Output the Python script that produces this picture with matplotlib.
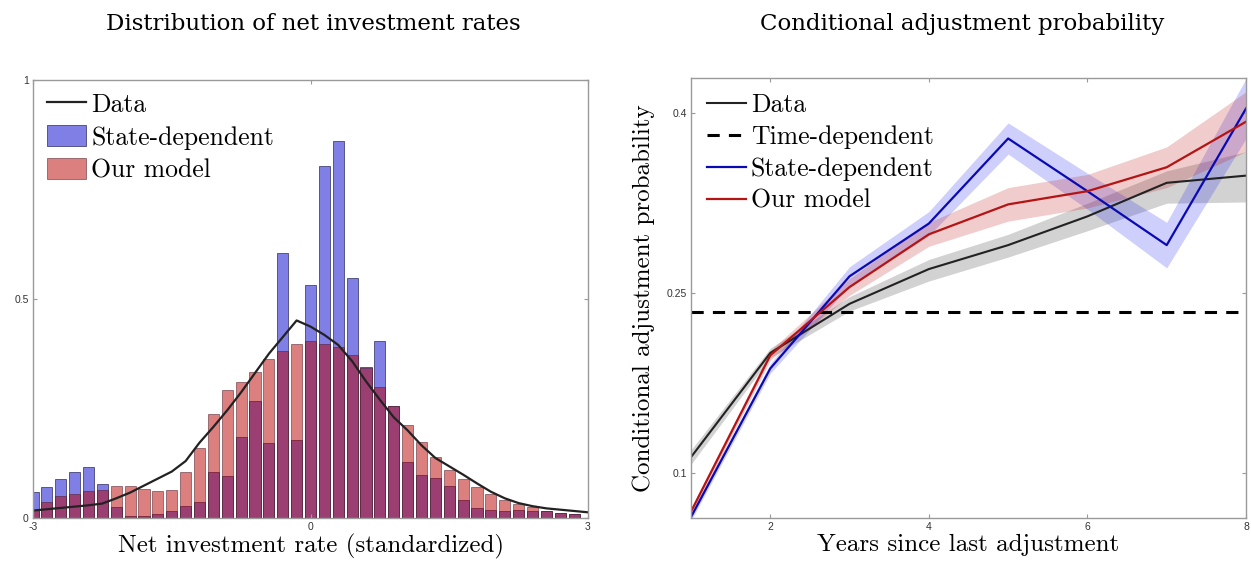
import matplotlib
matplotlib.use("Agg")
import matplotlib.pyplot as plt
import numpy as np

# histogram panel
bin_centers = np.linspace(-3, 2.85, 40)
state_dep = [0.059, 0.070, 0.088, 0.106, 0.117, 0.078, 0.024, 0.004, 0.005, 0.009,
             0.017, 0.027, 0.036, 0.105, 0.096, 0.186, 0.267, 0.171, 0.606, 0.178,
             0.531, 0.803, 0.860, 0.547, 0.344, 0.405, 0.256, 0.127, 0.099, 0.091,
             0.072, 0.041, 0.023, 0.018, 0.017, 0.018, 0.017, 0.016, 0.012, 0.009]
our_model = [0.018, 0.036, 0.050, 0.054, 0.061, 0.064, 0.072, 0.072, 0.067, 0.061,
             0.063, 0.105, 0.159, 0.237, 0.292, 0.310, 0.333, 0.363, 0.381, 0.397,
             0.404, 0.398, 0.391, 0.373, 0.343, 0.298, 0.255, 0.213, 0.174, 0.139,
             0.110, 0.090, 0.070, 0.055, 0.041, 0.031, 0.024, 0.016, 0.012, 0.009]
line_x = np.linspace(-3, 3, 41)
data_density = [0.017, 0.020, 0.023, 0.026, 0.029, 0.033, 0.045, 0.058, 0.074, 0.090,
                0.106, 0.130, 0.172, 0.208, 0.246, 0.287, 0.331, 0.375, 0.413, 0.451,
                0.437, 0.418, 0.395, 0.358, 0.312, 0.270, 0.230, 0.200, 0.166, 0.137,
                0.118, 0.099, 0.079, 0.060, 0.045, 0.034, 0.027, 0.022, 0.019, 0.016,
                0.013]

# adjustment probability panel
years = [1, 2, 3, 4, 5, 6, 7, 8]
data_prob = [0.113, 0.200, 0.241, 0.270, 0.290, 0.314, 0.342, 0.348]
data_lo = [0.107, 0.196, 0.235, 0.260, 0.280, 0.302, 0.325, 0.326]
data_hi = [0.119, 0.204, 0.247, 0.278, 0.299, 0.325, 0.352, 0.368]
time_dep = 0.234
state_prob = [0.063, 0.187, 0.264, 0.308, 0.379, 0.335, 0.290, 0.404]
state_err = [0.003, 0.004, 0.008, 0.010, 0.013, 0.015, 0.019, 0.025]
our_prob = [0.0675, 0.198, 0.255, 0.299, 0.324, 0.335, 0.355, 0.393]
our_err = [0.003, 0.004, 0.007, 0.010, 0.014, 0.014, 0.017, 0.025]

plt.rcParams['axes.unicode_minus'] = False
cm_font = 'cmr10'
tick_font = 'Liberation Sans'
title_font = 'DejaVu Serif'
spine_col = '#9a9a9a'

W, H = 1251, 564
fig = plt.figure(figsize=(W / 100, H / 100), dpi=100)
ax1 = fig.add_axes([33 / W, (H - 518) / H, 555 / W, 438 / H])
ax2 = fig.add_axes([691 / W, (H - 518) / H, 555 / W, 440 / H])

blue_face = (0.0, 0.0, 0.8, 0.5)
red_face = (0.72, 0.0, 0.0, 0.5)

ax1.bar(bin_centers, state_dep, width=0.12, color=blue_face,
        edgecolor=(0.15, 0.15, 0.35, 0.8), linewidth=0.6, label='State-dependent')
ax1.bar(bin_centers, our_model, width=0.12, color=red_face,
        edgecolor=(0.3, 0.1, 0.15, 0.6), linewidth=0.6, label='Our model')
ax1.plot(line_x, data_density, color='#222222', lw=1.6, label='Data')
ax1.set_xlim(-3, 3)
ax1.set_ylim(0, 1)
ax1.set_xticks([-3, 0, 3])
ax1.set_xticklabels(['-3', '0', '3'])
ax1.set_yticks([0, 0.5, 1])
ax1.set_yticklabels(['0', '0.5', '1'])
ax1.set_xlabel('Net investment rate (standardized)', fontfamily=cm_font,
               fontsize=18, labelpad=1)

h, l = ax1.get_legend_handles_labels()
ax1.legend(h, l, loc='upper left',
           bbox_to_anchor=(0.026, 0.972), borderpad=0, borderaxespad=0,
           frameon=False, prop={'family': cm_font, 'size': 18.5},
           handlelength=1.5, handleheight=0.9, handletextpad=0.2,
           labelspacing=0.32)

# right panel
ax2.fill_between(years, data_lo, data_hi, color=(0.5, 0.5, 0.5, 0.35), lw=0)
ax2.fill_between(years, np.array(state_prob) - np.array(state_err),
                 np.array(state_prob) + np.array(state_err),
                 color=(0.15, 0.15, 0.95, 0.22), lw=0)
ax2.fill_between(years, np.array(our_prob) - np.array(our_err),
                 np.array(our_prob) + np.array(our_err),
                 color=(0.75, 0.1, 0.1, 0.22), lw=0)
ax2.plot(years, data_prob, color='#222222', lw=1.5, label='Data')
ax2.axhline(time_dep, color='black', lw=2.2, dashes=(4, 3), label='Time-dependent')
ax2.plot(years, state_prob, color='#0a0ab4', lw=1.6, label='State-dependent')
ax2.plot(years, our_prob, color='#b41414', lw=1.6, label='Our model')
ax2.set_xlim(1, 8)
ax2.set_ylim(0.0622, 0.4295)
ax2.set_xticks([2, 4, 6, 8])
ax2.set_yticks([0.1, 0.25, 0.4])
ax2.set_yticklabels(['0.1', '0.25', '0.4'])
ax2.set_xlabel('Years since last adjustment', fontfamily=cm_font,
               fontsize=18, labelpad=1)
ax2.set_ylabel('Conditional adjustment probability', fontfamily=cm_font,
               fontsize=18, labelpad=8)
ax2.legend(loc='upper left', bbox_to_anchor=(0.029, 0.966), borderpad=0,
           borderaxespad=0, frameon=False, prop={'family': cm_font, 'size': 18.5},
           handlelength=1.5, handletextpad=0.2, labelspacing=0.32)

for ax in (ax1, ax2):
    for s in ax.spines.values():
        s.set_color(spine_col)
        s.set_linewidth(1.0)
    ax.tick_params(direction='in', length=3, width=0.8, color=spine_col,
                   top=True, right=True, labelsize=7.5, labelcolor='#333333',
                   pad=3)
    for t in ax.get_xticklabels() + ax.get_yticklabels():
        t.set_fontfamily(tick_font)

fig.text(313 / W, 1 - 24 / H, 'Distribution of net investment rates',
         ha='center', va='center', fontfamily=title_font, fontsize=16.5)
fig.text(962 / W, 1 - 24 / H, 'Conditional adjustment probability',
         ha='center', va='center', fontfamily=title_font, fontsize=16.5)

fig.savefig('out.png', dpi=100)
